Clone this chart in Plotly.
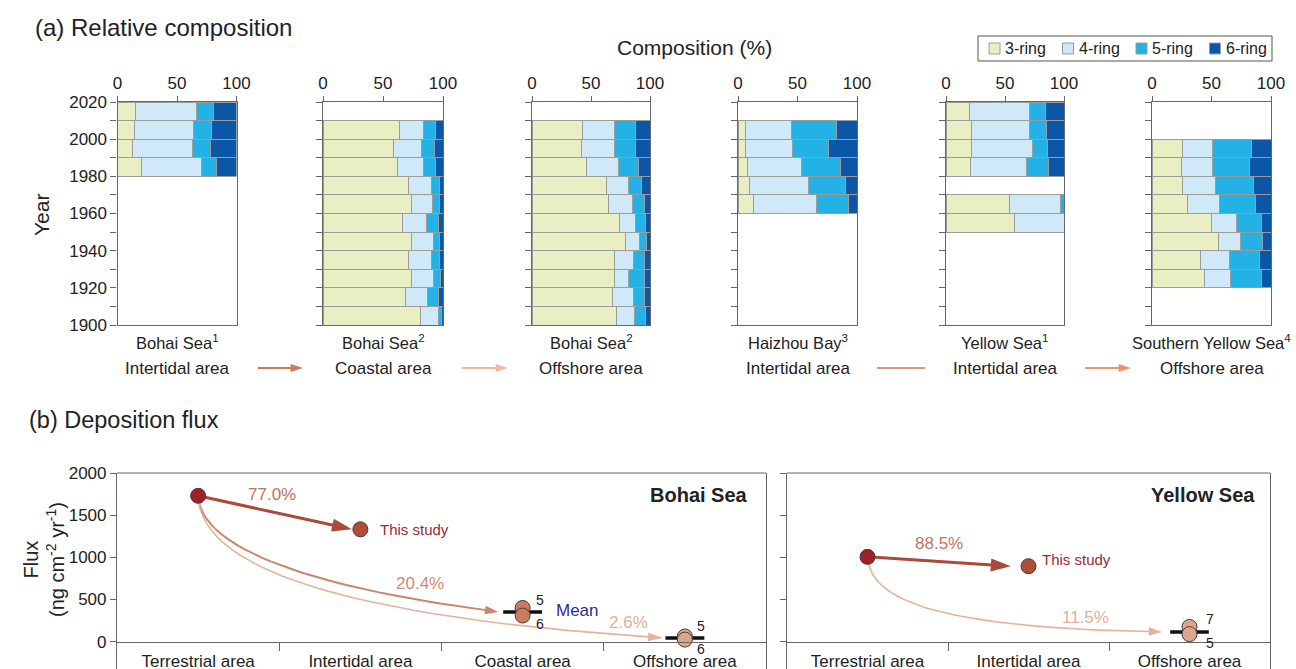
import numpy as np
import plotly.graph_objects as go

W, H = 1296, 669
FONT = "Arial, Liberation Sans, sans-serif"
TXT = "#222222"
AXC = "#666666"

# ---------------- (a) Relative composition data ----------------
ring_names = ["3-ring", "4-ring", "5-ring", "6-ring"]
ring_colors = ["#e9efc3", "#d0e9f8", "#22b2e6", "#0b56a6"]

site_names = ["Bohai Sea<sup>1</sup>", "Bohai Sea<sup>2</sup>", "Bohai Sea<sup>2</sup>",
              "Haizhou Bay<sup>3</sup>", "Yellow Sea<sup>1</sup>", "Southern Yellow Sea<sup>4</sup>"]
site_areas = ["Intertidal area", "Coastal area", "Offshore area",
              "Intertidal area", "Intertidal area", "Offshore area"]

year_ticks = list(range(1900, 2021, 20))
comp_ticks = [0, 50, 100]

# decade start year of each layer and % of each ring group
bohai1_years = [2010, 2000, 1990, 1980]
bohai1_r3 = [15, 14, 13, 20]
bohai1_r4 = [51, 50, 50, 51]
bohai1_r5 = [15, 15, 15, 12]
bohai1_r6 = [19, 21, 22, 17]

bohai2c_years = [2000, 1990, 1980, 1970, 1960, 1950, 1940, 1930, 1920, 1910, 1900]
bohai2c_r3 = [64, 59, 62, 71, 74, 66, 74, 71, 74, 69, 81]
bohai2c_r4 = [20, 23, 22, 19, 17, 20, 18, 19, 18, 18, 15]
bohai2c_r5 = [10, 11, 10, 7, 6, 10, 5, 7, 6, 9, 3]
bohai2c_r6 = [6, 7, 6, 3, 3, 4, 3, 3, 2, 4, 1]

bohai2o_years = [2000, 1990, 1980, 1970, 1960, 1950, 1940, 1930, 1920, 1910, 1900]
bohai2o_r3 = [43, 42, 46, 63, 65, 74, 79, 70, 70, 68, 72]
bohai2o_r4 = [27, 28, 27, 19, 20, 14, 12, 16, 12, 18, 15]
bohai2o_r5 = [18, 18, 17, 11, 10, 8, 6, 9, 13, 9, 9]
bohai2o_r6 = [12, 12, 10, 7, 5, 4, 3, 5, 5, 5, 4]

haizhou_years = [2000, 1990, 1980, 1970, 1960]
haizhou_r3 = [6, 6, 8, 10, 13]
haizhou_r4 = [39, 40, 45, 49, 53]
haizhou_r5 = [38, 30, 33, 31, 27]
haizhou_r6 = [17, 24, 14, 10, 7]

yellow1_years = [2010, 2000, 1990, 1980, 1960, 1950]
yellow1_r3 = [20, 22, 22, 21, 54, 58]
yellow1_r4 = [51, 49, 51, 47, 43, 42]
yellow1_r5 = [13, 14, 13, 19, 3, 0]
yellow1_r6 = [16, 15, 14, 13, 0, 0]

syellow_years = [1990, 1980, 1970, 1960, 1950, 1940, 1930, 1920]
syellow_r3 = [26, 25, 26, 30, 50, 56, 41, 44]
syellow_r4 = [25, 26, 27, 27, 21, 18, 24, 22]
syellow_r5 = [33, 31, 32, 30, 21, 19, 25, 26]
syellow_r6 = [16, 18, 15, 13, 8, 7, 10, 8]

profiles = [
    (bohai1_years, [bohai1_r3, bohai1_r4, bohai1_r5, bohai1_r6]),
    (bohai2c_years, [bohai2c_r3, bohai2c_r4, bohai2c_r5, bohai2c_r6]),
    (bohai2o_years, [bohai2o_r3, bohai2o_r4, bohai2o_r5, bohai2o_r6]),
    (haizhou_years, [haizhou_r3, haizhou_r4, haizhou_r5, haizhou_r6]),
    (yellow1_years, [yellow1_r3, yellow1_r4, yellow1_r5, yellow1_r6]),
    (syellow_years, [syellow_r3, syellow_r4, syellow_r5, syellow_r6]),
]

# ---------------- (b) Deposition flux data ----------------
bohai_cats = ["Terrestrial area", "Intertidal area", "Coastal area", "Offshore area"]
yellow_cats = ["Terrestrial area", "Intertidal area", "Offshore area"]
flux_ticks = [0, 500, 1000, 1500, 2000]

bohai_terrestrial = 1730
bohai_intertidal = 1332
bohai_coastal = [400, 310]
bohai_coastal_ids = ["5", "6"]
bohai_coastal_mean = 353
bohai_offshore = [62, 25]
bohai_offshore_ids = ["5", "6"]
bohai_offshore_mean = 45
bohai_shares = ["77.0%", "20.4%", "2.6%"]

yellow_terrestrial = 1006
yellow_intertidal = 895
yellow_offshore = [175, 90]
yellow_offshore_ids = ["7", "5"]
yellow_offshore_mean = 116
yellow_shares = ["88.5%", "11.5%"]

# ---------------- styling / layout constants ----------------
C_TERR = "#9c2129"
C_INTER = "#b04d38"
C_COAST = "#c97b5d"
C_OFF = "#dba78c"
C_STRAIGHT = "#a94a3b"

A_X = [(117.5, 236.5), (323, 443), (532, 650), (738, 857), (946, 1064), (1152, 1271)]
A_TOP, A_BOT = 102, 325
B_TOP, B_ZERO = 473, 641.7
B_LEFT = (117, 766)
B_RIGHT = (787, 1270)


def px(x):
    return x / W


def py(y):
    return 1 - y / H


fig = go.Figure()
layout = dict(
    width=W, height=H, margin=dict(l=0, r=0, t=0, b=0, pad=0, autoexpand=False),
    paper_bgcolor="white", plot_bgcolor="rgba(0,0,0,0)",
    font=dict(family=FONT, size=17, color=TXT),
    barmode="stack", showlegend=False,
)
annotations = []
shapes = []

# ---------------- panel (a) ----------------
for i, (years, rings) in enumerate(profiles):
    k = i + 1
    xa, ya = f"x{k}", f"y{k}"
    for rname, rcol, vals in zip(ring_names, ring_colors, rings):
        fig.add_trace(go.Bar(
            x=vals, y=[yr + 5 for yr in years], orientation="h", width=10,
            name=rname, marker=dict(color=rcol, line=dict(color="#9c9c9c", width=1)),
            xaxis=xa, yaxis=ya, showlegend=False, hoverinfo="x+y+name"))
    x0, x1 = A_X[i]
    layout[f"xaxis{k}"] = dict(
        domain=[px(x0), px(x1)], range=[0, 100], side="top", anchor=ya, automargin=False,
        tickmode="array", tickvals=comp_ticks, ticks="outside", ticklen=5,
        tickcolor=AXC, showline=True, linecolor=AXC, linewidth=1.2, mirror=True,
        showgrid=False, zeroline=False, tickfont=dict(size=17, color=TXT), fixedrange=True)
    layout[f"yaxis{k}"] = dict(
        domain=[py(A_BOT), py(A_TOP)], range=[1900, 2020], anchor=xa, automargin=False,
        tickmode="array", tickvals=year_ticks,
        ticks="outside", ticklen=6, tickcolor=AXC, showticklabels=(k == 1),
        minor=dict(tickmode="linear", tick0=1900, dtick=10, ticks="outside", ticklen=6,
                   tickcolor=AXC, tickwidth=1),
        showline=True, linecolor=AXC, linewidth=1.2, mirror=True,
        showgrid=False, zeroline=False, tickfont=dict(size=17, color=TXT), fixedrange=True)
    cx = px((x0 + x1) / 2)
    annotations.append(dict(xref="paper", yref="paper", x=cx, y=py(342), text=site_names[i],
                            showarrow=False, font=dict(size=16.5, color=TXT), xanchor="center", yanchor="middle"))
    annotations.append(dict(xref="paper", yref="paper", x=cx, y=py(368), text=site_areas[i],
                            showarrow=False, font=dict(size=17, color=TXT), xanchor="center", yanchor="middle"))

# full-figure pixel overlay axes (for the flow arrows between profile labels)
layout["xaxis9"] = dict(domain=[0, 1], range=[0, W], anchor="y9", visible=False, fixedrange=True, automargin=False)
layout["yaxis9"] = dict(domain=[0, 1], range=[H, 0], anchor="x9", visible=False, fixedrange=True, automargin=False)
for (xs, xe, col, head) in [(258, 303, "#c97a5c", 13), (462, 508, "#f2b8a0", 13),
                            (877, 925, "#d99585", 0), (1085, 1131, "#e8946e", 13)]:
    fig.add_trace(go.Scatter(x=[xs, xe], y=[368, 368], mode="lines+markers", xaxis="x9", yaxis="y9",
                             line=dict(color=col, width=2.2),
                             marker=dict(symbol="arrow", size=[0, head], angleref="previous", color=col,
                                         opacity=1, line=dict(width=0)),
                             hoverinfo="skip", showlegend=False))

# titles for (a)
annotations += [
    dict(xref="paper", yref="paper", x=px(33), y=py(27), text="(a) Relative composition", showarrow=False,
         xanchor="left", yanchor="middle", font=dict(size=24, color=TXT)),
    dict(xref="paper", yref="paper", x=px(694), y=py(47), text="Composition (%)", showarrow=False,
         xanchor="center", yanchor="middle", font=dict(size=21, color=TXT)),
    dict(xref="paper", yref="paper", x=px(42), y=py(215), text="Year", showarrow=False, textangle=-90,
         xanchor="center", yanchor="middle", font=dict(size=21, color=TXT)),
]

# legend (drawn)
shapes.append(dict(type="rect", xref="paper", yref="paper", x0=px(978), x1=px(1272), y0=py(61), y1=py(36),
                   line=dict(color="#555555", width=1), fillcolor="white"))
for j, (rname, rcol) in enumerate(zip(ring_names, ring_colors)):
    sx = 989 + j * 73.5
    shapes.append(dict(type="rect", xref="paper", yref="paper", x0=px(sx), x1=px(sx + 11),
                       y0=py(54), y1=py(43), fillcolor=rcol, line=dict(color="#9c9c9c", width=1)))
    annotations.append(dict(xref="paper", yref="paper", x=px(sx + 14), y=py(48.5), text=rname,
                            showarrow=False, xanchor="left", yanchor="middle", font=dict(size=16, color=TXT)))

# ---------------- panel (b) ----------------
B_YMIN = -(H - B_ZERO) / (B_ZERO - B_TOP) * 2000
zero_pos = (H - B_ZERO) / H


def b_axes(k, xr, ncat, cats, labels_on):
    layout[f"xaxis{k}"] = dict(
        domain=[px(xr[0]), px(xr[1])], range=[0, ncat], anchor="free", position=zero_pos,
        automargin=False,
        tickmode="array", tickvals=[c + 0.5 for c in range(ncat)], ticktext=cats,
        ticks="outside", ticklen=4, tickcolor="rgba(0,0,0,0)",
        minor=dict(tickmode="array", tickvals=list(range(1, ncat)), ticks="outside", ticklen=8,
                   tickcolor=AXC, tickwidth=1.2),
        showline=True, linecolor=AXC, linewidth=1.2, showgrid=False, zeroline=False,
        tickfont=dict(size=17, color=TXT), fixedrange=True)
    layout[f"yaxis{k}"] = dict(
        domain=[0, py(B_TOP)], range=[B_YMIN, 2000], anchor=f"x{k}", automargin=False,
        tickmode="array", tickvals=flux_ticks, ticks="outside", ticklen=6, tickcolor=AXC,
        showticklabels=labels_on, showline=True, linecolor=AXC, linewidth=1.2, mirror=True,
        showgrid=False, zeroline=False, tickfont=dict(size=17, color=TXT), fixedrange=True)
    shapes.append(dict(type="line", xref="paper", yref="paper", x0=px(xr[0]), x1=px(xr[1]),
                       y0=py(B_TOP), y1=py(B_TOP), line=dict(color=AXC, width=1.2)))


b_axes(7, B_LEFT, 4, bohai_cats, True)
b_axes(8, B_RIGHT, 3, yellow_cats, False)


def bezier(p0, p3, c1, c2, n=36):
    t = np.concatenate([np.linspace(0, 0.9, n), [1.0]])
    bx = 3 * (1 - t) ** 2 * t * c1[0] + 3 * (1 - t) * t ** 2 * c2[0] + t ** 3
    by = 3 * (1 - t) ** 2 * t * c1[1] + 3 * (1 - t) * t ** 2 * c2[1] + t ** 3
    return p0[0] + bx * (p3[0] - p0[0]), p0[1] + by * (p3[1] - p0[1])


def arrow_trace(xs, ys, color, width, head, k):
    xs, ys = list(xs), list(ys)
    sizes = [0] * (len(xs) - 1) + [head]
    return go.Scatter(x=xs, y=ys, mode="lines+markers", xaxis=f"x{k}", yaxis=f"y{k}",
                      line=dict(color=color, width=width),
                      marker=dict(symbol="arrow", size=sizes, angleref="previous", color=color,
                                  opacity=1, line=dict(width=0)),
                      hoverinfo="skip", showlegend=False)


def mean_bar(xc, m, k):
    return go.Scatter(x=[xc - 0.12, xc + 0.12], y=[m, m], mode="lines", xaxis=f"x{k}", yaxis=f"y{k}",
                      line=dict(color="#111111", width=3.5), hoverinfo="skip", showlegend=False)


def points(xs, ys, cols, k):
    return go.Scatter(x=xs, y=ys, mode="markers", xaxis=f"x{k}", yaxis=f"y{k}",
                      marker=dict(size=15, color=cols, opacity=1, line=dict(color="#4a3a3a", width=1)),
                      hoverinfo="x+y", showlegend=False)


def lab(k, x, y, text, size, color, xs=0, ys=0, xanchor="center"):
    annotations.append(dict(xref=f"x{k}", yref=f"y{k}", x=x, y=y, text=text,
                            showarrow=False, xshift=xs, yshift=ys, xanchor=xanchor, yanchor="middle",
                            font=dict(size=size, color=color)))


# Bohai Sea
bt, bi, bc, bo = 0.5, 1.5, 2.5, 3.5
fig.add_trace(arrow_trace([bt, bi - 0.052], [bohai_terrestrial, bohai_intertidal], C_STRAIGHT, 3, 21, 7))
c1x, c1y = bezier((bt, bohai_terrestrial), (bc - 0.15, bohai_coastal_mean), (0.007, 0.43), (0.34, 0.78))
fig.add_trace(arrow_trace(c1x, c1y, "#c98669", 2, 14, 7))
c2x, c2y = bezier((bt, bohai_terrestrial), (bo - 0.145, bohai_offshore_mean), (0.005, 0.5), (0.3, 0.85))
fig.add_trace(arrow_trace(c2x, c2y, "#e3b49c", 1.6, 14, 7))
fig.add_trace(mean_bar(bc, bohai_coastal_mean, 7))
fig.add_trace(mean_bar(bo, bohai_offshore_mean, 7))
fig.add_trace(points([bt, bi, bc, bc, bo, bo],
                     [bohai_terrestrial, bohai_intertidal] + bohai_coastal + bohai_offshore,
                     [C_TERR, C_INTER, C_COAST, C_COAST, C_OFF, C_OFF], 7))
lab(7, (bt + bi - 0.052) / 2, (bohai_terrestrial + bohai_intertidal) / 2, bohai_shares[0], 17, "#c3705e", -3, 18)
lab(7, bc - 0.15, bohai_coastal_mean, bohai_shares[1], 17, "#cf8a70", -78, 28)
lab(7, bo - 0.145, bohai_offshore_mean, bohai_shares[2], 17, "#e0b09a", -33, 15)
lab(7, bi, bohai_intertidal, "This study", 15, "#9a2a38", 18, 0, "left")
lab(7, bc, bohai_coastal_mean, "Mean", 17, "#2b2f8f", 31, 1, "left")
lab(7, bc, bohai_coastal_mean, bohai_coastal_ids[0], 14, TXT, 17, 12)
lab(7, bc, bohai_coastal_mean, bohai_coastal_ids[1], 14, TXT, 17, -12)
lab(7, bo, bohai_offshore_mean, bohai_offshore_ids[0], 14, TXT, 16, 12)
lab(7, bo, bohai_offshore_mean, bohai_offshore_ids[1], 14, TXT, 16, -11)
annotations.append(dict(xref="paper", yref="paper", x=px(750), y=py(495), text="<b>Bohai Sea</b>",
                        showarrow=False, xanchor="right", yanchor="middle", font=dict(size=20, color=TXT)))

# Yellow Sea
yt, yi, yo = 0.5, 1.5, 2.5
fig.add_trace(arrow_trace([yt, yi - 0.11], [yellow_terrestrial, yellow_intertidal], C_STRAIGHT, 3, 21, 8))
c3x, c3y = bezier((yt, yellow_terrestrial), (yo - 0.17, yellow_offshore_mean), (0.01, 0.6), (0.25, 0.95))
fig.add_trace(arrow_trace(c3x, c3y, "#e2b39b", 1.6, 14, 8))
fig.add_trace(mean_bar(yo, yellow_offshore_mean, 8))
fig.add_trace(points([yt, yi, yo, yo], [yellow_terrestrial, yellow_intertidal] + yellow_offshore,
                     [C_TERR, C_INTER, C_OFF, C_OFF], 8))
lab(8, (yt + yi - 0.11) / 2, (yellow_terrestrial + yellow_intertidal) / 2, yellow_shares[0], 17, "#c8705e", 0, 18)
lab(8, yo - 0.17, yellow_offshore_mean, yellow_shares[1], 17, "#e0b09a", -77, 14)
lab(8, yi, yellow_intertidal, "This study", 15, "#9a2a38", 11, 7, "left")
lab(8, yo, yellow_offshore_mean, yellow_offshore_ids[0], 14, TXT, 20, 13)
lab(8, yo, yellow_offshore_mean, yellow_offshore_ids[1], 14, TXT, 20, -11)
annotations.append(dict(xref="paper", yref="paper", x=px(1257), y=py(495), text="<b>Yellow Sea</b>",
                        showarrow=False, xanchor="right", yanchor="middle", font=dict(size=20, color=TXT)))

# titles for (b)
annotations += [
    dict(xref="paper", yref="paper", x=px(27), y=py(420), text="(b) Deposition flux", showarrow=False,
         xanchor="left", yanchor="middle", font=dict(size=23.5, color=TXT)),
    dict(xref="paper", yref="paper", x=px(44), y=py(560),
         text="Flux<br>(ng cm<sup>-2</sup> yr<sup>-1</sup>)", showarrow=False, textangle=-90,
         xanchor="center", yanchor="middle", font=dict(size=20, color=TXT)),
]

layout["annotations"] = annotations
layout["shapes"] = shapes
fig.update_layout(**layout)
fig.write_html("out.html", config={"displayModeBar": False},
               post_script="document.body.style.margin='0px';")
